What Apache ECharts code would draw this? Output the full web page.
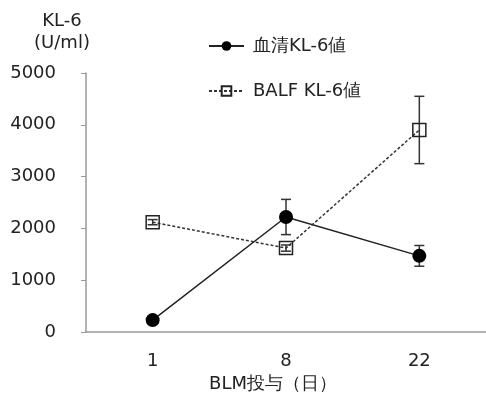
<!DOCTYPE html>
<html><head><meta charset="utf-8">
<script src="https://cdn.jsdelivr.net/npm/echarts@6/dist/echarts.min.js"></script>
<style>html,body{margin:0;padding:0;background:#fff}#c{width:486px;height:393px}</style>
</head><body><div id="c"></div>
<script>
const categories = ['1', '8', '22'];
const serumValues = [230, 2220, 1470];
const serumErr = [0, 340, 200];
const balfValues = [2120, 1620, 3900];
const balfErr = [50, 60, 650];
const yTicks = [0, 1000, 2000, 3000, 4000, 5000];

const FONT = 'DejaVu Sans';
const FS = 18;
const chart = echarts.init(document.getElementById('c'));

function errSeries(vals, errs) {
  return {
    type: 'custom',
    silent: true,
    z: 1,
    data: vals.map((v, i) => [i, v - errs[i], v + errs[i]]),
    renderItem: function (params, api) {
      const lo = api.coord([api.value(0), api.value(1)]);
      const hi = api.coord([api.value(0), api.value(2)]);
      const w = 5;
      const st = { stroke: '#333', lineWidth: 1.5 };
      return { type: 'group', children: [
        { type: 'line', shape: { x1: hi[0], y1: hi[1], x2: lo[0], y2: lo[1] }, style: st },
        { type: 'line', shape: { x1: hi[0] - w, y1: hi[1], x2: hi[0] + w, y2: hi[1] }, style: st },
        { type: 'line', shape: { x1: lo[0] - w, y1: lo[1], x2: lo[0] + w, y2: lo[1] }, style: st }
      ]};
    }
  };
}

chart.setOption({
  animation: false,
  textStyle: { fontFamily: FONT },
  grid: { left: 86, right: 0, top: 73, bottom: 61, containLabel: false, outerBoundsMode: 'none' },
  legend: {
    orient: 'vertical', left: 203, top: 32, itemGap: 27,
    itemWidth: 35, itemHeight: 12,
    textStyle: { fontFamily: FONT, fontSize: FS, color: '#222', padding: [0, 0, 0, 4] },
    data: ['血清KL-6値', 'BALF KL-6値']
  },
  xAxis: {
    type: 'category', data: categories, boundaryGap: true,
    name: 'BLM投与（日）', nameLocation: 'middle', nameGap: 43,
    nameTextStyle: { fontFamily: FONT, fontSize: FS, color: '#222', padding: [0, 26, 0, 0] },
    axisLine: { lineStyle: { color: '#999', width: 1.5 } },
    axisTick: { alignWithLabel: true, length: 4, lineStyle: { color: '#999' } },
    axisLabel: { fontFamily: FONT, fontSize: FS, color: '#222', margin: 20 }
  },
  yAxis: {
    type: 'value', min: 0, max: 5000, interval: 1000,
    name: 'KL-6\n(U/ml)', nameLocation: 'end', nameGap: 19,
    nameTextStyle: { fontFamily: FONT, fontSize: FS, color: '#222', align: 'center', padding: [0, 0, 0, -48], lineHeight: 22 },
    splitLine: { show: false },
    axisLine: { show: true, lineStyle: { color: '#999', width: 1.5 } },
    axisTick: { show: true, length: 5, lineStyle: { color: '#999' } },
    axisLabel: { fontFamily: FONT, fontSize: FS, color: '#222', margin: 30,
      formatter: v => yTicks.includes(v) ? String(v) : '' }
  },
  series: [
    errSeries(serumValues, serumErr),
    errSeries(balfValues, balfErr),
    {
      name: '血清KL-6値', type: 'line', data: serumValues, z: 3,
      symbol: 'circle', symbolSize: 14,
      itemStyle: { color: '#000' },
      lineStyle: { color: '#222', width: 1.5 }
    },
    {
      name: 'BALF KL-6値', type: 'line', data: balfValues, z: 3,
      symbol: 'rect', symbolSize: 13,
      itemStyle: { color: 'rgba(255,255,255,0)', borderColor: '#222', borderWidth: 1.5 },
      lineStyle: { color: '#333', width: 1.5, type: [3, 2] }
    }
  ]
});
</script></body></html>
